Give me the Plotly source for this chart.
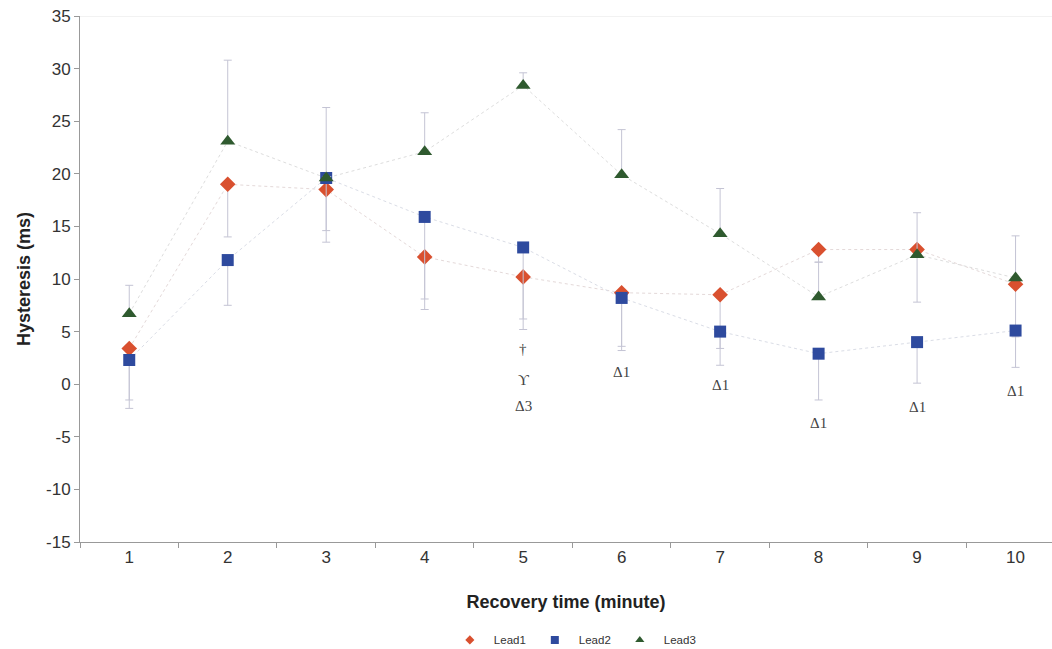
import plotly.graph_objects as go

minutes = [1, 2, 3, 4, 5, 6, 7, 8, 9, 10]
lead1 = [3.4, 19.0, 18.5, 12.1, 10.2, 8.7, 8.5, 12.8, 12.8, 9.5]
lead1_err_minus = [4.9, 5.0, 5.0, 5.0, 5.0, 5.5, 5.1, 1.2, 5.0, 5.0]
lead2 = [2.3, 11.8, 19.6, 15.9, 13.0, 8.2, 5.0, 2.9, 4.0, 5.1]
lead2_err_minus = [4.6, 4.3, 5.0, 7.8, 6.8, 4.6, 3.2, 4.4, 3.9, 3.5]
lead3 = [6.7, 23.1, 19.6, 22.1, 28.4, 19.9, 14.3, 8.3, 12.3, 10.1]
lead3_err_plus = [2.7, 7.7, 6.7, 3.7, 1.2, 4.3, 4.3, 3.3, 4.0, 4.0]

y_ticks = [-15, -10, -5, 0, 5, 10, 15, 20, 25, 30, 35]

note_x = [5, 5, 5, 6, 7, 8, 9, 10]
note_y = [3.3, 0.4, -2.1, 1.2, -0.1, -3.7, -2.2, -0.6]
note_text = ["†", "ϒ", "Δ3", "Δ1", "Δ1", "Δ1", "Δ1", "Δ1"]

err_color = "#c4c4d4"
series = [
    ("Lead1", lead1, "diamond", "#d9502f", "#e4d9d9", 12, 7),
    ("Lead2", lead2, "square", "#2e4a9e", "#dadde6", 12, 8),
    ("Lead3", lead3, "triangle-up", "#2f5a2f", "#dddddd", 13, 8),
]
errs = [
    dict(array=[0] * 10, arrayminus=lead1_err_minus),
    dict(array=[0] * 10, arrayminus=lead2_err_minus),
    dict(array=lead3_err_plus, arrayminus=[0] * 10),
]

fig = go.Figure()
for (name, vals, sym, col, lcol, size, lsize), e in zip(series, errs):
    fig.add_trace(go.Scatter(
        x=minutes, y=vals, name=name, mode="lines+markers", showlegend=False,
        line=dict(color=lcol, width=1, dash="dot"),
        marker=dict(symbol=sym, size=size, color=col),
        error_y=dict(type="data", symmetric=False, color=err_color, thickness=1, width=4, **e),
    ))
for (name, vals, sym, col, lcol, size, lsize) in series:
    fig.add_trace(go.Scatter(
        x=[None], y=[None], name=name, mode="markers",
        marker=dict(symbol=sym, size=lsize, color=col),
    ))

for xv, yv, t in zip(note_x, note_y, note_text):
    fig.add_annotation(x=xv, y=yv, text=t, showarrow=False,
                       font=dict(family="Liberation Serif", size=15, color="#444"))

fig.update_layout(
    width=1052, height=649,
    margin=dict(l=80, r=0, t=16, b=107, autoexpand=False),
    paper_bgcolor="white", plot_bgcolor="white",
    font=dict(family="Liberation Sans, Arial", color="#333"),
    showlegend=True,
    legend=dict(orientation="h", xref="container", yref="container",
                x=0.545, xanchor="center", y=0.014, yanchor="middle",
                font=dict(size=11.5, color="#333"), itemwidth=38, tracegroupgap=0),
    xaxis=dict(
        range=[0.5, 10.37], tickvals=minutes, ticktext=[str(m) for m in minutes],
        ticks="", tickfont=dict(size=17, color="#333"),
        showline=True, linecolor="#999", linewidth=1, showgrid=False, zeroline=False,
        minor=dict(tick0=0.5, dtick=1, ticks="outside", ticklen=5, tickcolor="#999", showgrid=False),
        title=dict(text="<b>Recovery time (minute)</b>", font=dict(size=18, color="#222"), standoff=28),
    ),
    yaxis=dict(
        range=[-15, 35], tickvals=y_ticks, ticktext=[str(v) for v in y_ticks],
        ticks="outside", ticklen=5, tickcolor="#999", tickfont=dict(size=17, color="#333"),
        showline=True, linecolor="#999", linewidth=1, showgrid=False, zeroline=False,
        title=dict(text="<b>Hysteresis (ms)</b>", font=dict(size=18, color="#222"), standoff=10),
    ),
    shapes=[dict(type="line", xref="paper", yref="y", x0=0, x1=1, y0=35, y1=35,
                 line=dict(color="#e6e6e6", width=1))],
)

fig.write_html("out.html")
